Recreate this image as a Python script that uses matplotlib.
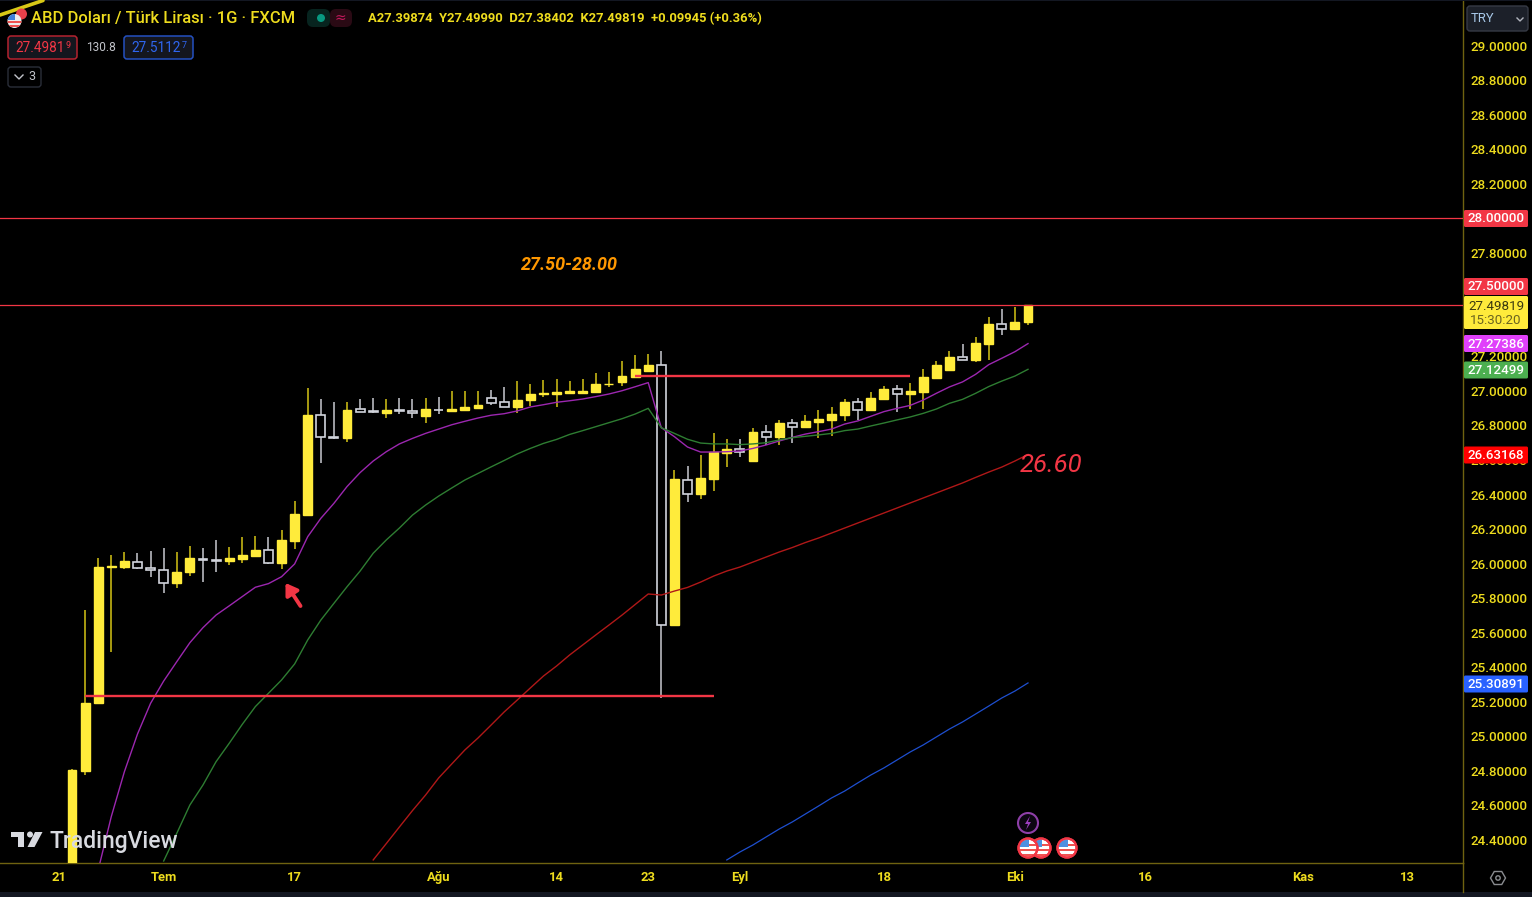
import numpy as np
import matplotlib
matplotlib.use('Agg')
import matplotlib.pyplot as plt
from matplotlib.patches import Circle, FancyBboxPatch, Polygon, Rectangle, RegularPolygon

plt.rcParams['font.family'] = ['Roboto', 'DejaVu Sans']

# candles
opens = [24.20, 24.80, 25.19, 25.98, 25.979, 26.011, 25.976, 25.963, 25.888, 25.95,
         26.026, 26.02, 26.013, 26.027, 26.046, 26.08, 26.003, 26.13, 26.281, 26.858,
         26.735, 26.725, 26.893, 26.881, 26.872, 26.888, 26.885, 26.853, 26.891, 26.884,
         26.889, 26.901, 26.959, 26.934, 26.909, 26.945, 26.980, 26.982, 26.986, 26.99,
         26.994, 27.038, 27.053, 27.082, 27.117, 27.148, 25.645, 26.486, 26.403, 26.488,
         26.641, 26.664, 26.592, 26.76, 26.731, 26.814, 26.793, 26.822, 26.833, 26.859,
         26.936, 26.89, 26.955, 27.009, 26.98, 26.994, 27.077, 27.119, 27.198, 27.181,
         27.272, 27.385, 27.356, 27.39874]
closes = [24.805, 25.195, 25.982, 25.985, 26.013, 25.975, 25.961, 25.888, 25.951, 26.03,
          26.02, 26.015, 26.032, 26.05, 26.08, 26.003, 26.135, 26.287, 26.859, 26.733,
          26.727, 26.887, 26.878, 26.876, 26.887, 26.884, 26.872, 26.893, 26.887, 26.893,
          26.905, 26.918, 26.932, 26.909, 26.947, 26.984, 26.988, 26.992, 26.998, 27.0,
          27.04, 27.042, 27.088, 27.125, 27.148, 25.645, 26.488, 26.403, 26.494, 26.644,
          26.664, 26.646, 26.76, 26.731, 26.816, 26.793, 26.828, 26.839, 26.864, 26.936,
          26.89, 26.961, 27.009, 26.98, 26.997, 27.082, 27.15, 27.198, 27.181, 27.277,
          27.385, 27.356, 27.397, 27.49819]
highs = [24.81, 25.73, 26.03, 26.05, 26.067, 26.06, 26.073, 26.092, 26.067, 26.104,
         26.092, 26.135, 26.098, 26.152, 26.16, 26.154, 26.195, 26.364, 27.015, 26.953,
         26.936, 26.936, 26.953, 26.961, 26.953, 26.961, 26.953, 26.961, 26.967, 26.997,
         26.997, 26.997, 27.003, 27.021, 27.057, 27.038, 27.063, 27.069, 27.057, 27.069,
         27.102, 27.107, 27.173, 27.21, 27.215, 27.229, 26.542, 26.565, 26.627, 26.754,
         26.72, 26.72, 26.785, 26.803, 26.833, 26.839, 26.859, 26.888, 26.907, 26.955,
         26.961, 26.992, 27.028, 27.034, 27.046, 27.125, 27.175, 27.229, 27.27, 27.314,
         27.428, 27.472, 27.484, 27.4999]
lows = [24.20, 24.776, 25.19, 25.488, 25.967, 25.97, 25.924, 25.832, 25.857, 25.93,
        25.895, 25.953, 25.99, 26.003, 26.046, 25.996, 25.97, 26.086, 26.281, 26.58,
        26.723, 26.706, 26.878, 26.87, 26.845, 26.866, 26.845, 26.816, 26.864, 26.884,
        26.889, 26.901, 26.92, 26.909, 26.872, 26.913, 26.966, 26.909, 26.982, 26.986,
        26.994, 27.024, 27.028, 27.082, 27.111, 25.222, 25.645, 26.355, 26.374, 26.422,
        26.561, 26.615, 26.592, 26.687, 26.689, 26.7, 26.793, 26.725, 26.737, 26.828,
        26.833, 26.882, 26.947, 26.876, 26.895, 26.895, 27.077, 27.119, 27.181, 27.169,
        27.181, 27.326, 27.351, 27.38402]

# moving averages, each starts at its own bar
purple_start = 2
purple = [24.226, 24.535, 24.795, 25.013, 25.191, 25.32, 25.432, 25.542, 25.629, 25.702,
          25.755, 25.809, 25.863, 25.884, 25.924, 25.998, 26.156, 26.262, 26.349, 26.446,
          26.527, 26.594, 26.648, 26.693, 26.725, 26.754, 26.779, 26.804, 26.824, 26.843,
          26.859, 26.868, 26.884, 26.907, 26.92, 26.934, 26.943, 26.953, 26.967, 26.982,
          27.001, 27.024, 27.048, 26.787, 26.735, 26.675, 26.646, 26.646, 26.648, 26.652,
          26.667, 26.687, 26.71, 26.731, 26.75, 26.764, 26.779, 26.808, 26.826, 26.853,
          26.88, 26.899, 26.916, 26.947, 26.986, 27.023, 27.052, 27.096, 27.152, 27.189,
          27.227, 27.274]
green_start = 7
green = [24.278, 24.438, 24.602, 24.718, 24.853, 24.959, 25.069, 25.172, 25.249, 25.326,
         25.419, 25.558, 25.673, 25.77, 25.866, 25.957, 26.06, 26.137, 26.206, 26.281,
         26.339, 26.391, 26.438, 26.484, 26.522, 26.56, 26.597, 26.635, 26.667, 26.696,
         26.719, 26.748, 26.77, 26.793, 26.816, 26.839, 26.866, 26.899, 26.787, 26.754,
         26.72, 26.698, 26.693, 26.693, 26.689, 26.693, 26.7, 26.716, 26.729, 26.737,
         26.745, 26.754, 26.77, 26.779, 26.797, 26.814, 26.832, 26.849, 26.87, 26.895,
         26.928, 26.951, 26.986, 27.025, 27.057, 27.086, 27.125]
red_start = 23
red = [24.284, 24.379, 24.475, 24.57, 24.66, 24.759, 24.84, 24.921, 24.99, 25.065,
       25.141, 25.21, 25.28, 25.349, 25.407, 25.471, 25.529, 25.587, 25.644, 25.702,
       25.763, 25.824, 25.818, 25.841, 25.862, 25.893, 25.928, 25.957, 25.98, 26.009,
       26.038, 26.067, 26.093, 26.122, 26.148, 26.177, 26.206, 26.235, 26.264, 26.293,
       26.322, 26.351, 26.38, 26.409, 26.438, 26.467, 26.499, 26.53, 26.559, 26.594,
       26.632]
blue_start = 50
blue = [24.284, 24.33, 24.371, 24.417, 24.463, 24.504, 24.55, 24.596, 24.643, 24.683,
        24.73, 24.776, 24.817, 24.863, 24.909, 24.95, 24.996, 25.042, 25.083, 25.129,
        25.175, 25.222, 25.262, 25.309]

# 27.4, 27.6 and 28.0 are covered by the price tags, so they show no label
price_ticks = [24.4, 24.6, 24.8, 25.0, 25.2, 25.4, 25.6, 25.8, 26.0, 26.2, 26.4, 26.6,
               26.8, 27.0, 27.2, 27.8, 28.2, 28.4, 28.6, 28.8, 29.0]
date_ticks = [-1, 7, 17, 28, 37, 44, 51, 62, 72, 82, 94, 102]
date_labels = ['21', 'Tem', '17', 'Ağu', '14', '23', 'Eyl', '18', 'Eki', '16', 'Kas', '13']

W, H = 1532, 897
PANE_R, PANE_B = 1463, 863
BAR_W = 13.096
BAR0_X = 72
YELLOW = '#ffeb3b'
AXIS_YELLOW = '#eedc1e'
LINE_RED = '#f23645'

fig = plt.figure(figsize=(W / 100, H / 100), dpi=100, facecolor='black')
ax = fig.add_axes([0, 1 - PANE_B / H, PANE_R / W, PANE_B / H], facecolor='black')
ax.set_xlim(-BAR0_X / BAR_W, (PANE_R - BAR0_X) / BAR_W)
ax.set_ylim(29 - (PANE_B - 45.5) / 172.7, 29 + 45.5 / 172.7)

x = np.arange(len(opens))
o, c, h, l = map(np.array, (opens, closes, highs, lows))
up = c >= o

ax.vlines(x[up], l[up], h[up], color='#d6c516', lw=1.1, zorder=2)
ax.vlines(x[~up], l[~up], h[~up], color='#c8cad0', lw=1.1, zorder=2)
ax.bar(x[up], (c - o)[up], bottom=o[up], width=0.68, color=YELLOW, edgecolor=YELLOW, lw=1, zorder=3)
ax.bar(x[~up], (c - o)[~up], bottom=o[~up], width=0.68, color='black', edgecolor='#d1d4dc', lw=1.2, zorder=3)

ax.plot(np.arange(len(purple)) + purple_start, purple, color='#9c27b0', lw=1, zorder=4)
ax.plot(np.arange(len(green)) + green_start, green, color='#2e7d32', lw=1, zorder=4)
ax.plot(np.arange(len(red)) + red_start, red, color='#b01818', lw=1, zorder=4)
ax.plot(np.arange(len(blue)) + blue_start, blue, color='#1e4fd0', lw=0.9, zorder=4)

# drawn levels
ax.axhline(28.0, color=LINE_RED, lw=0.9, zorder=5)
ax.axhline(27.5, color=LINE_RED, lw=0.9, zorder=5)
ax.hlines(25.233, 1, 49, color=LINE_RED, lw=1.7, zorder=5)
ax.hlines(27.089, 43, 64, color=LINE_RED, lw=1.7, zorder=5)

ax.yaxis.tick_right()
ax.set_yticks(price_ticks, ['%.5f' % p for p in price_ticks])
ax.set_xticks(date_ticks, date_labels)
ax.tick_params(axis='y', length=0, pad=5.5, labelsize=9.6, labelcolor=AXIS_YELLOW)
ax.tick_params(axis='x', length=0, pad=6, labelsize=9.4, labelcolor=AXIS_YELLOW)
for lb in ax.get_xticklabels():
    lb.set_fontweight('bold')
for lb in ax.get_yticklabels():
    lb.set_fontweight('medium')
for name, sp in ax.spines.items():
    sp.set_visible(name in ('right', 'bottom'))
    sp.set_color('#6f6210')
    sp.set_linewidth(1)

# everything else is screen furniture, placed in pixels
px = fig.add_axes([0, 0, 1, 1], facecolor='none', zorder=10)
px.set_xlim(0, W)
px.set_ylim(H, 0)
px.axis('off')


def box(x0, y0, x1, y1, fc, ec='none', r=2, lw=1, z=5):
    px.add_patch(FancyBboxPatch((x0 + r, y0 + r), x1 - x0 - 2 * r, y1 - y0 - 2 * r,
                                boxstyle='round,pad=%g,rounding_size=%g' % (r, r),
                                fc=fc, ec=ec, lw=lw, zorder=z))


def tag(yc, label, fc, color='white', hh=8.5):
    box(1464, yc - hh, 1528, yc + hh, fc, r=1.5, z=6)
    px.text(1496, yc + 0.5, label, color=color, fontsize=9.6, fontweight='medium',
            ha='center', va='center', zorder=7)


def flag(cx, cy, z=8):
    px.add_patch(Circle((cx, cy), 9.5, fc='white', ec='#f23645', lw=1.6, zorder=z))
    clip = Circle((cx, cy), 8.5, transform=px.transData)
    for dy in (-4, 1, 6):
        s = Rectangle((cx - 9, cy + dy), 18, 2.4, fc='#ef5350', ec='none', zorder=z + 0.1)
        px.add_patch(s)
        s.set_clip_path(clip)
    cant = Rectangle((cx - 9, cy - 9), 10, 8, fc='#4d90e0', ec='none', zorder=z + 0.2)
    px.add_patch(cant)
    cant.set_clip_path(clip)
    px.add_patch(Circle((cx, cy), 9.5, fc='none', ec='#f23645', lw=1.6, zorder=z + 0.3))


# chart annotations
px.text(569, 265, '27.50-28.00', color='#ff9800', fontsize=13, fontweight='bold',
        fontstyle='italic', ha='center', va='center')
px.text(1051, 465, '26.60', color='#f23645', fontsize=18.5, fontstyle='italic', ha='center', va='center')
px.annotate('', xy=(285.5, 583), xytext=(300.5, 606),
            arrowprops=dict(arrowstyle='-|>,head_width=0.36,head_length=0.55', color='#f23645',
                            lw=2.8, mutation_scale=12, shrinkA=0, shrinkB=0))

# header
px.plot([0, 43], [15, 0.5], color='#d8c816', lw=2.6, solid_capstyle='round')
px.add_patch(Circle((21.5, 14), 5.5, fc='#e8404a', ec='none', zorder=3))
px.add_patch(Circle((14.5, 21), 7, fc='#ececec', ec='none', zorder=3.5))
flag_clip = Circle((14.5, 21), 7, transform=px.transData)
for patch in (Rectangle((7, 14), 8, 6, fc='#3f7fd8', ec='none', zorder=4),
              Rectangle((7, 21), 15, 1.8, fc='#ef5350', ec='none', zorder=4),
              Rectangle((7, 25), 15, 1.8, fc='#ef5350', ec='none', zorder=4)):
    px.add_patch(patch)
    patch.set_clip_path(flag_clip)
px.text(31, 18.5, 'ABD Doları / Türk Lirası · 1G · FXCM', color=AXIS_YELLOW, fontsize=11.9,
        va='center', fontweight='medium')
box(307, 9, 330, 27, '#07241f', r=6)
box(330, 9, 352, 27, '#2a0a14', r=6)
px.add_patch(Circle((321, 18), 4, fc='#089981', ec='none', zorder=6))
px.text(340, 18, '≈', color='#c2185b', fontsize=10, ha='center', va='center', zorder=6,
        family=['DejaVu Sans'])
px.text(368, 18.5, 'A27.39874  Y27.49990  D27.38402  K27.49819  +0.09945 (+0.36%)', color=AXIS_YELLOW,
        fontsize=9.35, va='center', fontweight='bold')

box(8, 36, 77, 59, '#14161e', ec='#b5232f', r=3, lw=1.1)
px.text(15, 48, '27.4981', color='#f23645', fontsize=9.8, va='center', zorder=7)
px.text(65.5, 45, '9', color='#f23645', fontsize=6.5, va='center', zorder=7)
px.text(86, 47.5, '130.8', color='#c2c4ca', fontsize=8.6, va='center', zorder=7)
box(124, 36, 193, 59, '#14161e', ec='#2450c0', r=3, lw=1.1)
px.text(131, 48, '27.5112', color='#2f66f0', fontsize=9.8, va='center', zorder=7)
px.text(181.5, 45, '7', color='#2f66f0', fontsize=6.5, va='center', zorder=7)
box(8, 67, 41, 87, 'black', ec='#2a2e39', r=3, lw=1)
px.plot([15, 19, 23], [75, 79, 75], color='#c2c4ca', lw=1, zorder=7)
px.text(32, 77, '3', color='#c2c4ca', fontsize=9, ha='center', va='center', zorder=7)

# price axis extras
box(1467, 6, 1528, 31, '#1c2029', ec='#363a45', r=3)
px.text(1471, 18.5, 'TRY', color='#a8c8e8', fontsize=9.4, va='center', zorder=7)
px.plot([1517, 1520, 1523], [18, 21, 18], color='#b2b5be', lw=1, zorder=7)
tag(218.5, '28.00000', '#f23645')
tag(286.5, '27.50000', '#f23645')
box(1464, 296, 1528, 329, YELLOW, r=1.5, z=6)
px.text(1496, 306, '27.49819', color='#3a3a10', fontsize=9.6, ha='center', va='center', zorder=7)
px.text(1496, 320, '15:30:20', color='#6b6420', fontsize=9.6, ha='center', va='center', zorder=7)
tag(343.5, '27.27386', '#e040fb')
tag(370, '27.12499', '#4caf50')
tag(455, '26.63168', '#ff0000')
tag(684, '25.30891', '#2962ff')

# event markers
px.add_patch(Circle((1028, 823), 10, fc='#0c0612', ec='#8e3fa8', lw=1.5, zorder=8))
px.add_patch(Polygon([(1030, 816), (1025, 824), (1028, 824), (1026, 830), (1031, 822), (1028, 822)],
                     fc='#9c3fc0', ec='none', zorder=9))
flag(1041, 848, z=8)
flag(1028, 848, z=9)
flag(1067, 848, z=8)

# watermark
wm = '#d8dae0'
px.add_patch(Polygon([(11, 832), (24, 832), (24, 847), (17.5, 847), (17.5, 837), (11, 837)],
                     fc=wm, ec='none', zorder=6))
px.add_patch(Circle((30, 834.5), 3, fc=wm, ec='none', zorder=6))
px.add_patch(Polygon([(35, 832), (42.5, 832), (34.5, 847), (27.5, 847)], fc=wm, ec='none', zorder=6))
px.text(49.5, 841.5, 'TradingView', color=wm, fontsize=16.5, va='center', fontweight='medium', zorder=6)

# settings cell and bottom strip
px.add_patch(RegularPolygon((1498, 878), 6, radius=7.5, orientation=np.pi / 2, fc='none', ec='#8a8c90', lw=1))
px.add_patch(Circle((1498, 878), 2.2, fc='none', ec='#8a8c90', lw=1))
px.add_patch(Rectangle((0, 892), W, 5, fc='#131722', ec='none'))
px.add_patch(Rectangle((0, 0), W, 1.5, fc='#131722', ec='none'))
px.plot([1463, 1463], [863, 892], color='#6f6210', lw=1)

fig.savefig('out.png', dpi=100, facecolor='black')
